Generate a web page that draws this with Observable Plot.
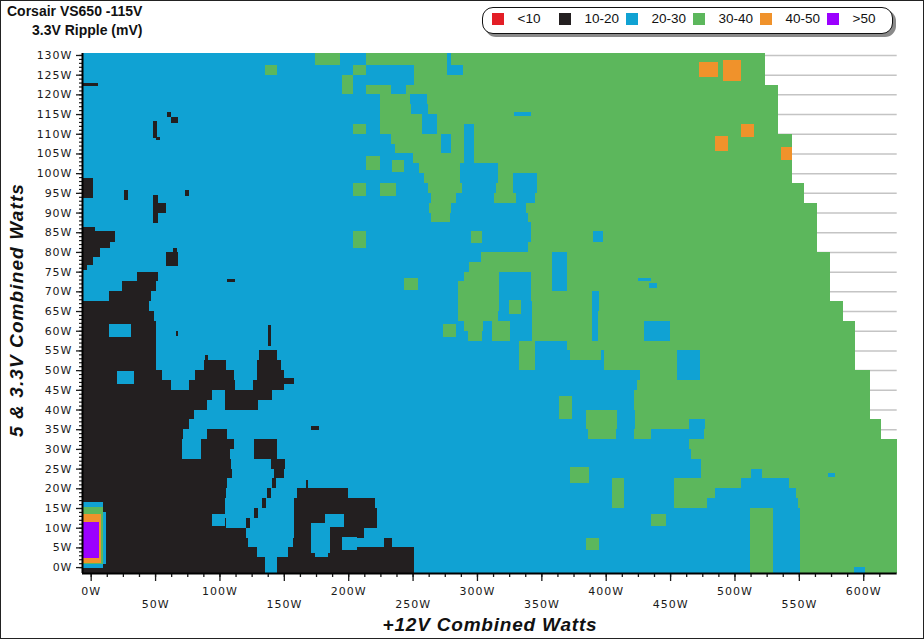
<!DOCTYPE html>
<html><head><meta charset="utf-8">
<script src="https://cdn.jsdelivr.net/npm/d3@7"></script>
<script src="https://cdn.jsdelivr.net/npm/@observablehq/plot@0.6"></script>
<style>
html,body{margin:0;padding:0;background:#fff;}
#wrap{position:relative;width:924px;height:639px;overflow:hidden;background:#fff;}
#chart{position:absolute;left:0;top:0;}
#frame{position:absolute;left:0;top:0;width:924px;height:639px;box-sizing:border-box;border:1px solid #222;pointer-events:none;}
.title{position:absolute;font-family:"Liberation Sans",Arial,sans-serif;font-weight:bold;font-size:14px;line-height:16px;white-space:nowrap;color:#111;}
#legend{position:absolute;left:482px;top:7px;width:411px;height:27px;box-sizing:border-box;border:1.5px solid #111;border-radius:11px;box-shadow:3px 3px 0 #8a8a8a;background:#fff;}
.sw{position:absolute;top:4.5px;width:12px;height:12px;}
.lt{position:absolute;top:3px;font-family:"Liberation Sans",Arial,sans-serif;font-size:13.5px;line-height:16px;white-space:nowrap;color:#111;}
.axt{position:absolute;font-family:"Liberation Sans",Arial,sans-serif;font-weight:bold;font-style:italic;font-size:19px;line-height:20px;white-space:nowrap;color:#111;}
#xt{left:490px;top:615px;transform:translateX(-50%);letter-spacing:0.8px;}
#yt{left:17px;top:310px;transform:translate(-50%,-50%) rotate(-90deg);letter-spacing:1.1px;}
svg text{letter-spacing:1px;}
</style></head>
<body>
<div id="wrap">
  <div id="chart"></div>
  <div class="title" style="left:7px;top:3px">Corsair VS650 -115V</div>
  <div class="title" style="left:32px;top:22px">3.3V Ripple (mV)</div>
  <div id="legend"></div>
  <div class="axt" id="xt">+12V Combined Watts</div>
  <div class="axt" id="yt">5 &amp; 3.3V Combined Watts</div>
  <div id="frame"></div>
</div>
<script>
// Legend categories (ripple in mV) and their colours
const categories = ["<10", "10-20", "20-30", "30-40", "40-50", ">50"];
const codes      = ["r", "k", "b", "g", "o", "p"];
const colors     = ["#e31e26", "#231f20", "#10a2d3", "#5cb75c", "#f0922b", "#9b00ff"];

// Load limit of +12V (right edge of measured area) per 5V/3.3V load band
const edgeFrom  = [122.5, 110, 97.5, 92.5, 80, 67.5, 62.5, 50, 37.5, 32.5, -1.5];
const edgeLimit = [524, 534, 545, 554, 564, 574, 584, 594, 605, 614, 626];

// Heat map rows: "y1~y2|<code><x start> ..." (x in +12V watts, y in 5V&3.3V watts)
const heatRows = [
"127.5~130.5|b-6.75 g174 b194 g214 b277 g280",
"125~127.5|b-6.75 g135 b145 g204 b214 g251 b277 g289",
"122.5~125|b-6.75 g195 b204 g251",
"120~122.5|b-6.75 g195 b204 g214 b233 g245",
"117.5~120|b-6.75 g225 b248 g261",
"115~117.5|b-6.75 g225 b249 g262",
"112.5~115|b-6.75 g225 b257 g269",
"110~112.5|b-6.75 g204 b214 g225 b257 g269 b290 g298",
"107.5~110|b-6.75 g233 b272 g280 b290 g298",
"105~107.5|b-6.75 g236 b272 g280 b290 g298",
"102.5~105|b-6.75 g250 b290 g298",
"100~102.5|b-6.75 g255 b287 g316",
"97.5~100|b-6.75 g259 b287 g316 b328 g347",
"95~97.5|b-6.75 g262 b288 g315 b328 g347",
"92.5~95|b-6.75 g264 b284 g313 b330 g345",
"90~92.5|b-6.75 g263 b280 g338",
"87.5~90|b-6.75 g264 b279 g340",
"85~87.5|b-6.75 g342",
"82.5~85|b-6.75 g342",
"80~82.5|b-6.75 g340",
"77.5~80|b-6.75 g303 b358 g370",
"75~77.5|b-6.75 g294 b358 g370",
"72.5~75|b-6.75 k36 b52 g290 b317 g342 b358 g370",
"70~72.5|b-6.75 k24 b51 g285 b317 g342 b358 g370",
"67.5~70|b-6.75 k14 b47 g285 b317 g342 b389 g395",
"65~67.5|k-6.75 b45 g285 b317 g343 b389 g395",
"62.5~65|k-6.75 b49 g285 b316 g343 b389 g394",
"60~62.5|k-6.75 b51 g290 b305 g312 b326 g343 b389 g394 b430 g450",
"57.5~60|k-6.75 b51 g293 b304 g312 b326 g343 b389 g394 b430 g450",
"55~57.5|k-6.75 b51 g333 b345 g370",
"52.5~55|k-6.75 b51 k131 b145 g333 b345 g372 b396 g399 b455 g473",
"50~52.5|k-6.75 b51 k88 b105 k129 b148 g333 b345 g399 b455 g473",
"47.5~50|k-6.75 b55 k81 b111 k129 b150 g427 b455 g473",
"45~47.5|k-6.75 b62 k76 b112 k126 b150 g424",
"42.5~45|k-6.75 b94 k104 b141 g422",
"40~42.5|k-6.75 b90 k104 b130 g422",
"37.5~40|k-6.75 b80 g385 b409 g423",
"35~37.5|k-6.75 b76 g385 b409 g423 b465 g477",
"32.5~35|k-6.75 b72 k90 b106 g386 b408 g422 b435 g476",
"30~32.5|k-6.75 b71 k86 b111 k127 b145 g465",
"27.5~30|k-6.75 b71 k86 b108 k127 b145 g466",
"25~27.5|k-6.75 b109 k140 b151 g474",
"22.5~25|k-6.75 b110 k142 b150 g474 b513 g521",
"20~22.5|k-6.75 b106 k141 b144 g453 b505 g542",
"17.5~20|k-6.75 b105 k137 b140 k160 b200 g453 b485 g548",
"15~17.5|k-6.75 b104 k133 b136 k158 b221 g453 b479 g549",
"12.5~15|k-6.75 b104 k127 b130 k158 b222 g512 b530 g551",
"10~12.5|k-6.75 b105 k121 b124 k158 b222 g512 b530 g551",
"7.5~10|k-6.75 b121 k158 b171 k186 b212 g512 b530 g551",
"5~7.5|k-6.75 b122 k157 b171 k186 b196 k228 b234 g512 b530 g551",
"2.5~5|k-6.75 b129 k153 b174 k184 b251 g512 b530 g551",
"-1.5~2.5|k-6.75 b135 k145 b251 g512 b530 g551"
];

// Small islands: "code x1 x2 y1 y2"
const patches = [
"g 214 225 100.8 104.4", "g 234 243 100.4 103.4", "g 204 214 94.3 97.6", "g 225 237 94.3 97.6",
"g 204 214 80.9 85.2", "g 295 304 82.2 85.2", "g 243 254 70.3 73.5", "g 325 334 64.2 67.8",
"g 274 284 58.5 61.7", "g 364 374 37.5 43.4", "g 372 387 21.3 25.5", "g 405 414.5 14.9 22.5",
"g 435 447 10.4 13.6", "g 385 395 4.3 7.4",
"b 329 342 114.4 115.6", "b 390 398 82.6 85.2", "b 425 435 72.5 73.5", "b 434 440 70.8 72.1",
"b 573 578 22.8 23.8", "b 593 601 -1.5 0", "b 14.5 31 58.3 61.7", "b 20.7 33.7 46.5 49.8",
"b 94 104 10.4 13.6", "b 171 186 3.5 11.1", "b 182 197 10.2 13.6", "b 195 207 4.3 7.7",
"o 472.6 487.4 124.5 128.2", "o 491 505.3 123.4 128.7", "o 505 515 109.3 112.5",
"o 484.5 495 105.7 109.5", "o 536.5 545 103.4 106.6",
"k -6.75 6 122 123", "k 59 62 114.2 115.5", "k 62 68 112.7 114.3", "k 48.5 51.6 109 113.3",
"k 50.5 53.6 108.5 109.3", "k -6.75 1.8 93.7 98.8", "k 26 29 93.2 95.7", "k 48.5 52 87.4 94.5",
"k 52 58.5 89.8 92.4", "k 73 76 94.2 95.7", "k -6.75 3 85 86.3", "k -6.75 19 82.6 85.2",
"k -6.75 15 80.9 82.6", "k -6.75 7 78.8 80.9", "k -6.75 2 76.7 78.8", "k -6.75 -3 75.4 76.7",
"k 58.7 68 76.4 80", "k 63.6 66.8 80 81", "k 106 112 72.4 73.2", "k 66 68 58.7 60",
"k 138 140 56 61.5", "k 89 91 52.1 53.8", "k 147 158 46.5 47.9", "k 171 177 34.8 35.9",
"k 167 169 19.5 22",
"b -6.75 9.3 -0.3 16.6", "b 9.3 11.6 0.9 14", "g -6.75 9.3 0.8 15.3",
"o -6.75 8.2 1 13.5", "p -6.75 6.5 2.2 11.5"
];

// Axis ticks
const yMajor = d3.range(0, 131, 5);
const yMinor = d3.range(0, 131, 1);
const xMinor = d3.range(0, 613, 12.5);
const xMajor = d3.range(0, 601, 50);
const xLabelsUpper = [0, 100, 200, 300, 400, 500, 600];
const xLabelsLower = [50, 150, 250, 350, 450, 550];
const gridLevels = d3.range(0, 131, 5);

const catOf = Object.fromEntries(codes.map((c, i) => [c, categories[i]]));
function edgeFor(y1) {
  for (let i = 0; i < edgeFrom.length; i++) if (y1 >= edgeFrom[i] - 1e-9) return edgeLimit[i];
  return edgeLimit[edgeLimit.length - 1];
}
const cells = [];
for (const row of heatRows) {
  const [ys, segs] = row.split("|");
  const [y1, y2] = ys.split("~").map(Number);
  const parts = segs.trim().split(/\s+/).map(s => ({code: s[0], x: +s.slice(1)}));
  const edge = edgeFor(y1);
  parts.forEach((p, i) => {
    const x2 = i + 1 < parts.length ? parts[i + 1].x : edge;
    cells.push({x1: p.x, x2: Math.min(x2, edge), y1, y2, cat: catOf[p.code]});
  });
}
const patchCells = patches.map(s => {
  const [c, x1, x2, y1, y2] = s.split(/\s+/);
  return {x1: +x1, x2: +x2, y1: +y1, y2: +y2, cat: catOf[c]};
});

const chart = Plot.plot({
  width: 924, height: 639,
  marginLeft: 82, marginRight: 27.3, marginTop: 53, marginBottom: 66,
  x: {domain: [-6.75, 626], axis: null, label: null},
  y: {domain: [-1.5, 130.5], axis: null, label: null},
  color: {domain: categories, range: colors},
  style: {fontFamily: "'DejaVu Sans', sans-serif", fontSize: "11px", color: "#1a1a1a", background: "transparent", overflow: "visible"},
  marks: [
    Plot.ruleY(gridLevels, {stroke: "#c4c4c4", strokeWidth: 1.5}),
    Plot.rect(cells, {x1: "x1", x2: "x2", y1: "y1", y2: "y2", fill: "cat", shapeRendering: "crispEdges"}),
    Plot.rect(patchCells, {x1: "x1", x2: "x2", y1: "y1", y2: "y2", fill: "cat", shapeRendering: "crispEdges"}),
    Plot.axisY(yMinor, {tickSize: 3, tickFormat: () => "", label: null, strokeWidth: 1.2}),
    Plot.axisY(yMajor, {tickSize: 6, tickPadding: 4, tickFormat: d => d + "W", label: null, strokeWidth: 1.3}),
    Plot.axisX(xMinor, {tickSize: 4, tickFormat: () => "", label: null, strokeWidth: 1.3}),
    Plot.axisX(xMajor, {tickSize: 8, tickFormat: () => "", label: null, strokeWidth: 1.3}),
    Plot.axisX(xLabelsUpper, {tickSize: 0, tickPadding: 14, tickFormat: d => d + "W", label: null}),
    Plot.axisX(xLabelsLower, {tickSize: 0, tickPadding: 27, tickFormat: d => d + "W", label: null}),
    Plot.ruleX([-6.75], {stroke: "#000", strokeWidth: 2}),
    Plot.ruleY([-1.5], {stroke: "#000", strokeWidth: 2})
  ]
});
document.getElementById("chart").appendChild(chart);

// Legend built from the category arrays
const legend = document.getElementById("legend");
categories.forEach((c, i) => {
  const sw = document.createElement("div");
  sw.className = "sw"; sw.style.left = (8.5 + 67 * i) + "px"; sw.style.background = colors[i];
  const t = document.createElement("div");
  t.className = "lt"; t.style.left = (34.5 + 67 * i) + "px"; t.textContent = c;
  legend.appendChild(sw); legend.appendChild(t);
});
</script>
</body></html>
